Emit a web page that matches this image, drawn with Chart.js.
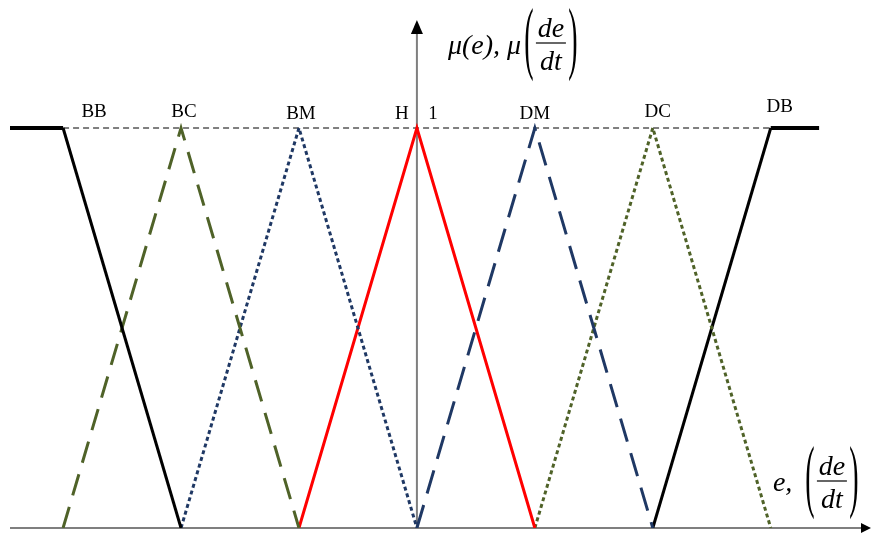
<!DOCTYPE html>
<html>
<head>
<meta charset="utf-8">
<script src="https://cdn.jsdelivr.net/npm/chart.js@4"></script>
<style>
html,body{margin:0;padding:0;background:#fff;}
canvas{display:block;}
</style>
</head>
<body>
<canvas id="c" width="871" height="535"></canvas>
<script>
// Membership function labels and peak positions (in units)
const categories = ['BB', 'BC', 'BM', 'H', 'DM', 'DC', 'DB'];
const peaks = [-3, -2, -1, 0, 1, 2, 3];

// Series (x in units, y = membership degree)
const bbX = [-3.45, -3, -2];      const bbY = [1, 1, 0];
const bcX = [-3, -2, -1];         const bcY = [0, 1, 0];
const bmX = [-2, -1, 0];          const bmY = [0, 1, 0];
const hX  = [-1, 0, 1];           const hY  = [0, 1, 0];
const dmX = [0, 1, 2];            const dmY = [0, 1, 0];
const dcX = [1, 2, 3];            const dcY = [0, 1, 0];
const dbX = [2, 3, 3.41];         const dbY = [0, 1, 1];
const refX = [-3, 3];             const refY = [1, 1];

const pts = (xs, ys) => xs.map((x, i) => ({x, y: ys[i]}));

const axisPlugin = {
  id: 'axes',
  beforeDatasetsDraw(chart) {
    const ctx = chart.ctx, xs = chart.scales.x, ys = chart.scales.y;
    const x0 = xs.getPixelForValue(0), y0 = ys.getPixelForValue(0);
    ctx.save();
    ctx.strokeStyle = '#7f7f7f';
    ctx.lineWidth = 2;
    ctx.beginPath();
    ctx.moveTo(xs.left, y0); ctx.lineTo(xs.right - 8, y0);
    ctx.moveTo(x0, y0); ctx.lineTo(x0, ys.top + 24);
    ctx.stroke();
    ctx.fillStyle = '#000';
    // y arrow
    const yt = ys.top + 12;
    ctx.beginPath();
    ctx.moveTo(x0, yt); ctx.lineTo(x0 - 6, yt + 14); ctx.lineTo(x0 + 6, yt + 14); ctx.closePath(); ctx.fill();
    // x arrow
    const xr = xs.right;
    ctx.beginPath();
    ctx.moveTo(xr, y0); ctx.lineTo(xr - 10, y0 - 5); ctx.lineTo(xr - 10, y0 + 5); ctx.closePath(); ctx.fill();
    ctx.restore();
  },
  afterDatasetsDraw(chart) {
    const ctx = chart.ctx, xs = chart.scales.x, ys = chart.scales.y;
    const x0 = xs.getPixelForValue(0), y1 = ys.getPixelForValue(1), y0 = ys.getPixelForValue(0);
    ctx.save();
    ctx.fillStyle = '#000';
    ctx.textAlign = 'center';
    ctx.textBaseline = 'alphabetic';
    ctx.font = '19px "Liberation Serif", "Times New Roman", serif';
    const dx = [31, 3, 2, -15, 0, 5, 9];
    const dy = [-11, -11, -9, -9, -9, -11, -16];
    categories.forEach((c, i) => {
      ctx.fillText(c, xs.getPixelForValue(peaks[i]) + dx[i], y1 + dy[i]);
    });
    ctx.fillText('1', x0 + 16, y1 - 9);

    const it = '28px "Liberation Serif", "Times New Roman", serif';
    const itI = 'italic ' + it;
    // y-axis title
    ctx.textAlign = 'left';
    ctx.font = itI;
    ctx.fillText('\u03bc(e), \u03bc', x0 + 31, y1 - 74);
    drawFrac(ctx, x0 + 134, y1 - 85, it, itI);
    // x-axis title
    ctx.textAlign = 'left';
    ctx.font = itI;
    ctx.fillText('e,', x0 + 356, y0 - 37);
    drawFrac(ctx, x0 + 415, y0 - 47, it, itI);
    ctx.restore();
  }
};

function drawFrac(ctx, cx, cy, it, itI) {
  // cx, cy = center of the fraction bar
  ctx.save();
  ctx.textAlign = 'center';
  ctx.font = itI;
  ctx.fillText('de', cx, cy - 6);
  ctx.fillText('dt', cx, cy + 27);
  ctx.strokeStyle = '#000';
  ctx.lineWidth = 1.2;
  ctx.beginPath();
  ctx.moveTo(cx - 15, cy); ctx.lineTo(cx + 15, cy); ctx.stroke();
  ctx.font = it;
  ctx.textBaseline = 'middle';
  ctx.save();
  ctx.translate(cx - 22, cy);
  ctx.scale(1, 2.85);
  ctx.fillText('(', 0, 0);
  ctx.restore();
  ctx.save();
  ctx.translate(cx + 22, cy);
  ctx.scale(1, 2.85);
  ctx.fillText(')', 0, 0);
  ctx.restore();
  ctx.restore();
}

const olive = '#4f6228', navy = '#1f3864';
const base = {pointRadius: 0, tension: 0, fill: false, borderCapStyle: 'butt'};

new Chart(document.getElementById('c'), {
  type: 'line',
  data: {
    datasets: [
      {...base, label: 'BB', data: pts(bbX, bbY), borderColor: '#000', borderWidth: 3,
        segment: {borderWidth: s => s.p0DataIndex === 0 ? 4 : 3}},
      {...base, label: 'BC', data: pts(bcX, bcY), borderColor: olive, borderWidth: 3, borderDash: [22, 12]},
      {...base, label: 'BM', data: pts(bmX, bmY), borderColor: navy, borderWidth: 3, borderDash: [4, 3]},
      {...base, label: 'H', data: pts(hX, hY), borderColor: '#ff0000', borderWidth: 3},
      {...base, label: 'DM', data: pts(dmX, dmY), borderColor: navy, borderWidth: 3, borderDash: [24, 12]},
      {...base, label: 'DC', data: pts(dcX, dcY), borderColor: olive, borderWidth: 3, borderDash: [4, 3]},
      {...base, label: 'DB', data: pts(dbX, dbY), borderColor: '#000', borderWidth: 3,
        segment: {borderWidth: s => s.p0DataIndex === 1 ? 4 : 3}},
      {...base, label: 'ref', data: pts(refX, refY), borderColor: '#000', borderWidth: 1, borderDash: [6, 4], order: 10}
    ]
  },
  options: {
    responsive: false,
    devicePixelRatio: 1,
    animation: false,
    layout: {padding: {left: 10, right: 0, top: 8, bottom: 7}},
    plugins: {legend: {display: false}, tooltip: {enabled: false}},
    scales: {
      x: {type: 'linear', min: -3.45, max: 3.85, display: false},
      y: {min: 0, max: 1.3, display: false}
    }
  },
  plugins: [axisPlugin]
});
</script>
</body>
</html>
